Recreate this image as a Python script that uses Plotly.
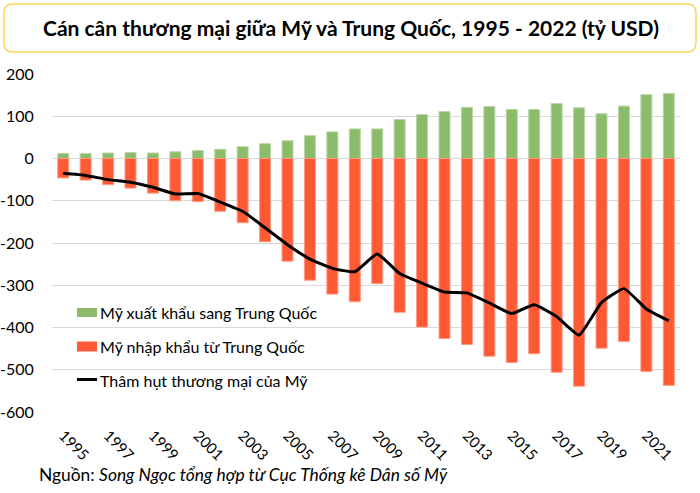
import plotly.graph_objects as go

years = list(range(1995, 2023))
exports = [12, 12, 13, 14, 13, 16, 19, 22, 28, 35, 42, 54, 63, 70, 70, 92, 104, 111, 121, 123, 116, 116, 130, 120, 106, 124, 151, 154]
imports = [-46, -51, -62, -70, -82, -100, -102, -125, -152, -197, -243, -288, -321, -339, -296, -364, -399, -426, -440, -468, -483, -462, -506, -539, -449, -433, -504, -537]
deficit = [-35, -40, -50, -56, -68, -84, -83, -103, -125, -164, -204, -238, -260, -268, -226, -272, -295, -316, -318, -342, -367, -346, -374, -418, -341, -308, -356, -384]
tick_years = list(range(1995, 2023, 2))
y_ticks = [200, 100, 0, -100, -200, -300, -400, -500, -600]
y_tick_labels = ["200", "100", "0", "-100", "-200", "-300", "-400", "-500", "-600"]

title_text = "Cán cân thương mại giữa Mỹ và Trung Quốc, 1995 - 2022 (tỷ USD)"
legend_names = ["Mỹ xuất khẩu sang Trung Quốc", "Mỹ nhập khẩu từ Trung Quốc", "Thâm hụt thương mại của Mỹ"]
source_text = "Nguồn: <i>Song Ngọc tổng hợp từ Cục Thống kê Dân số Mỹ</i>"

GREEN = "#8cbb6b"
RED = "#ff5a35"
FONT = "Lato"

W, H = 700, 493
L, R, T, B = 52, 20, 74, 81
PW, PH = W - L - R, H - T - B


def px(x):
    return (x - L) / PW


def py(y):
    return (H - B - y) / PH


fig = go.Figure()
fig.add_trace(go.Bar(x=years, y=exports, name=legend_names[0], marker=dict(color=GREEN, line=dict(color="#b9d6a6", width=1))))
fig.add_trace(go.Bar(x=years, y=imports, name=legend_names[1], marker=dict(color=RED, line=dict(color="#ff9a80", width=1))))
fig.add_trace(go.Scatter(x=years, y=deficit, name=legend_names[2], mode="lines",
                         line=dict(color="black", width=3, shape="spline", smoothing=0.4)))

shapes = []
# title box with rounded corners
x0, x1, y0, y1, r = 4, 696, 4, 52, 9
rx, ry = r / PW, r / PH
X0, X1, Y0, Y1 = px(x0), px(x1), py(y0), py(y1)
path = (f"M {X0+rx},{Y0} L {X1-rx},{Y0} Q {X1},{Y0} {X1},{Y0-ry} "
        f"L {X1},{Y1+ry} Q {X1},{Y1} {X1-rx},{Y1} "
        f"L {X0+rx},{Y1} Q {X0},{Y1} {X0},{Y1+ry} "
        f"L {X0},{Y0-ry} Q {X0},{Y0} {X0+rx},{Y0} Z")
shapes.append(dict(type="path", xref="paper", yref="paper", path=path,
                   line=dict(color="#fdd55c", width=1.5), fillcolor="rgba(0,0,0,0)"))

# custom legend
leg_y = [312.5, 346.5, 380]
shapes.append(dict(type="rect", xref="paper", yref="paper", x0=px(77), x1=px(97),
                   y0=py(leg_y[0] - 4.5), y1=py(leg_y[0] + 4.5), fillcolor=GREEN, line=dict(width=0)))
shapes.append(dict(type="rect", xref="paper", yref="paper", x0=px(77), x1=px(97),
                   y0=py(leg_y[1] - 5), y1=py(leg_y[1] + 5), fillcolor=RED, line=dict(width=0)))
shapes.append(dict(type="line", xref="paper", yref="paper", x0=px(77), x1=px(97),
                   y0=py(leg_y[2] - 0.5), y1=py(leg_y[2] - 0.5), line=dict(color="black", width=3)))

annotations = []
for name, yy in zip(legend_names, leg_y):
    annotations.append(dict(text=name, xref="paper", yref="paper", x=px(98), y=py(yy),
                            xanchor="left", yanchor="middle", showarrow=False,
                            font=dict(family=FONT, size=16, color="#000")))
annotations.append(dict(text=f"<b>{title_text}</b>", xref="paper", yref="paper", x=px(351), y=py(28),
                        xanchor="center", yanchor="middle", showarrow=False,
                        font=dict(family=FONT, size=21, color="#000")))
annotations.append(dict(text=source_text, xref="paper", yref="paper", x=px(37), y=py(474),
                        xanchor="left", yanchor="middle", showarrow=False,
                        font=dict(family=FONT, size=17.4, color="#000")))

fig.update_layout(
    width=W, height=H,
    margin=dict(l=L, r=R, t=T, b=B, pad=0, autoexpand=False),
    paper_bgcolor="white", plot_bgcolor="white",
    barmode="relative", bargap=0.51,
    showlegend=False,
    shapes=shapes, annotations=annotations,
    font=dict(family=FONT, color="#000"),
)
fig.update_xaxes(range=[1994.5, 2022.5], tickmode="array", tickvals=tick_years,
                 ticktext=[str(y) for y in tick_years], tickangle=45, automargin=False,
                 showgrid=False, showline=False, zeroline=False,
                 ticks="outside", ticklen=8, tickcolor="rgba(0,0,0,0)",
                 tickfont=dict(family=FONT, size=15, color="#000"))
fig.update_yaxes(range=[-600, 200], tickmode="array", tickvals=y_ticks, ticktext=y_tick_labels,
                 automargin=False,
                 showgrid=True, gridcolor="#d9d9d9", gridwidth=1,
                 zeroline=True, zerolinecolor="#d9d9d9", zerolinewidth=1,
                 showline=False, ticks="outside", ticklen=14, tickcolor="rgba(0,0,0,0)",
                 tickfont=dict(family=FONT, size=16, color="#000"))

fig.write_html("out.html", config={"displayModeBar": False},
               post_script="document.body.style.margin='0';document.body.style.overflow='hidden';")
